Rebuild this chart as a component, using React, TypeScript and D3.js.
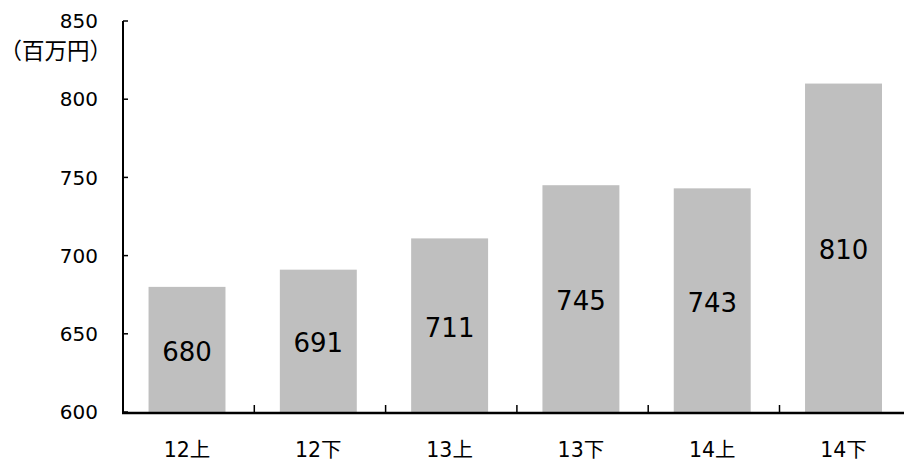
import React from "react";
import * as d3 from "d3";

const categories = ["12上", "12下", "13上", "13下", "14上", "14下"];
const values = [680, 691, 711, 745, 743, 810];
const yTicks = [600, 650, 700, 750, 800, 850];
const unitLabel = "（百万円）";

const W = 904;
const H = 461;
const left = 123;
const top = 21;
const bottom = 412;
const bandW = 131.3;

export default function App() {
  const x = d3
    .scaleBand<string>()
    .domain(categories)
    .range([left, left + bandW * categories.length])
    .paddingInner(0.414)
    .paddingOuter(0.207)
    .align(0.47);
  const y = d3.scaleLinear().domain([600, 850]).range([bottom, top]);
  const font = "'DejaVu Sans', 'Noto Sans CJK JP', sans-serif";
  const boundaries = d3.range(categories.length + 1).map((i) => left + i * bandW);

  return (
    <svg
      width={W}
      height={H}
      style={{ position: "absolute", left: 0, top: 0, background: "#fff" }}
    >
      {categories.map((c, i) => (
        <rect
          key={c}
          x={x(c)}
          y={y(values[i])}
          width={x.bandwidth()}
          height={y(600) - y(values[i])}
          fill="#BFBFBF"
        />
      ))}
      {categories.map((c, i) => (
        <text
          key={"v" + c}
          x={(x(c) as number) + x.bandwidth() / 2}
          y={(y(values[i]) + y(600)) / 2 + 2}
          dy="0.36em"
          textAnchor="middle"
          fontFamily={font}
          fontSize={26}
          fill="#000"
        >
          {values[i]}
        </text>
      ))}
      {/* y axis */}
      <line x1={left} x2={left} y1={top} y2={bottom} stroke="#000" strokeWidth={2} />
      {yTicks.map((t) => (
        <g key={t}>
          <line x1={left} x2={left + 5} y1={y(t)} y2={y(t)} stroke="#000" strokeWidth={1.5} />
          <text
            x={98}
            y={y(t)}
            dy="0.36em"
            textAnchor="end"
            fontFamily={font}
            fontSize={20}
            fill="#000"
          >
            {t}
          </text>
        </g>
      ))}
      <text
        x={112}
        y={51}
        dy="0.36em"
        textAnchor="end"
        fontFamily="'Noto Sans CJK JP', sans-serif"
        fontSize={22.5}
        fill="#000"
      >
        {unitLabel}
      </text>
      {/* x axis */}
      <line x1={left - 1} x2={W} y1={bottom + 1} y2={bottom + 1} stroke="#000" strokeWidth={2.5} />
      {boundaries.map((b, i) => (
        <line key={i} x1={b} x2={b} y1={bottom} y2={bottom - 7} stroke="#000" strokeWidth={1.5} />
      ))}
      {categories.map((c) => (
        <text
          key={"x" + c}
          x={(x(c) as number) + x.bandwidth() / 2}
          y={450}
          dy="0.36em"
          textAnchor="middle"
          fontFamily={font}
          fontSize={20.5}
          fill="#000"
        >
          {c}
        </text>
      ))}
    </svg>
  );
}
